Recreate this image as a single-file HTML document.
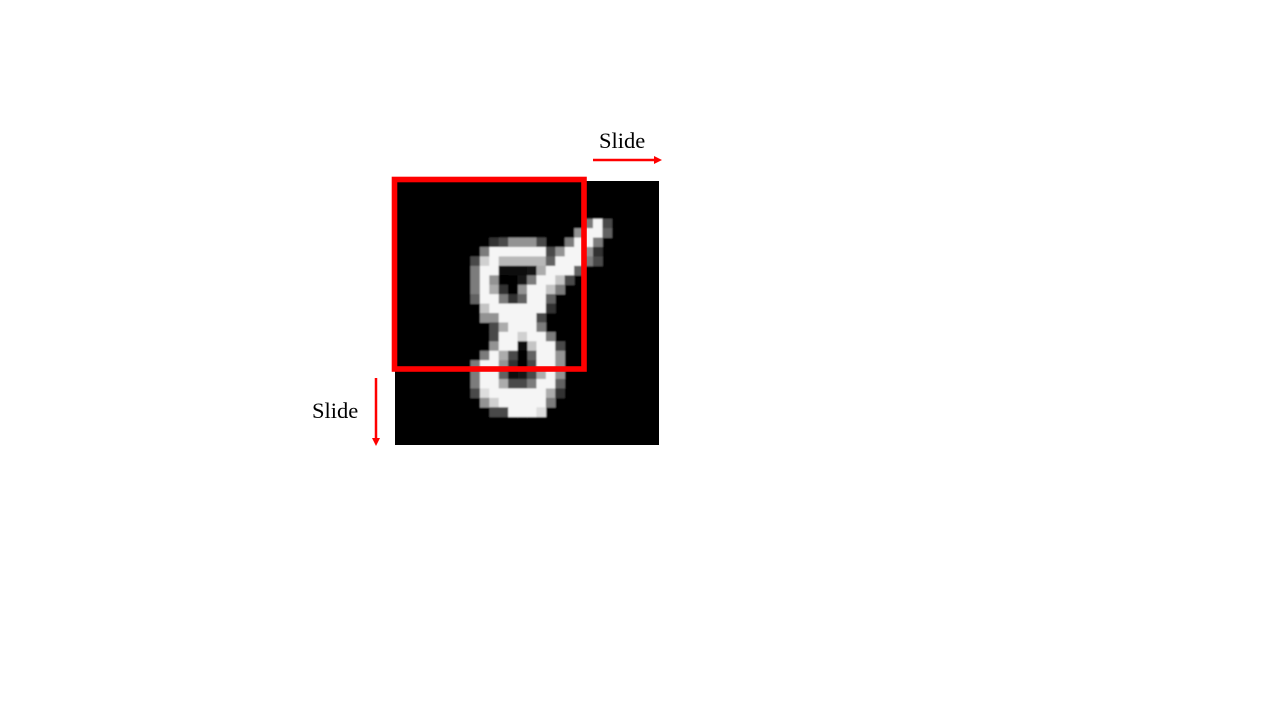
<!DOCTYPE html>
<html><head><meta charset="utf-8"><style>
html,body{margin:0;padding:0;background:#fff;width:1280px;height:720px;overflow:hidden}
svg{position:absolute;left:0;top:0}
text{font-family:"Liberation Serif",serif;font-size:22.5px;fill:#000}
</style></head><body>
<svg id="s" width="1280" height="720">
  <defs>
    <filter id="bl" x="0" y="0" width="1" height="1"><feGaussianBlur stdDeviation="0.9"/></filter>
    <clipPath id="cp"><rect x="395" y="181" width="264" height="264"/></clipPath>
  </defs>
  <rect x="395" y="181" width="264" height="264" fill="#000"/>
  <g clip-path="url(#cp)"><g id="img" filter="url(#bl)"></g></g>
  <rect x="394.5" y="179.5" width="189.5" height="189.5" fill="none" stroke="#ff0000" stroke-width="5.6"/>
  <text x="599" y="148">Slide</text>
  <g>
    <line x1="593" y1="160" x2="655" y2="160" stroke="#ff0000" stroke-width="2.5"/>
    <polygon points="654,156 662,160 654,164" fill="#ff0000"/>
  </g>
  <text x="312" y="418">Slide</text>
  <g>
    <line x1="376" y1="378" x2="376" y2="439" stroke="#ff0000" stroke-width="2.5"/>
    <polygon points="372,438 376,446 380,438" fill="#ff0000"/>
  </g>
</svg>
<script>
// pixel intensities [row, col, value]
const rows = [4,4,4,5,5,5,5,6,6,6,6,6,6,6,6,6,6,7,7,7,7,7,7,7,7,7,7,7,7,7,8,8,8,8,8,8,8,8,8,8,8,8,8,8,9,9,9,9,9,9,9,9,9,9,9,9,10,10,10,10,10,10,10,10,10,10,11,11,11,11,11,11,11,11,11,11,12,12,12,12,12,12,12,12,12,13,13,13,13,13,13,13,13,14,14,14,14,14,14,14,15,15,15,15,15,15,16,16,16,16,16,16,16,17,17,17,17,17,17,17,17,18,18,18,18,18,18,18,18,18,19,19,19,19,19,19,19,19,19,19,20,20,20,20,20,20,20,20,20,20,21,21,21,21,21,21,21,21,21,21,22,22,22,22,22,22,22,22,22,22,23,23,23,23,23,23,23,23,24,24,24,24,24,24];
const cols = [20,21,22,19,20,21,22,10,11,12,13,14,15,18,19,20,21,9,10,11,12,13,14,15,16,17,18,19,20,21,8,9,10,11,12,13,14,15,16,17,18,19,20,21,8,9,10,11,12,13,14,15,16,17,18,19,8,9,10,13,14,15,16,17,18,11,8,9,10,11,13,14,15,16,17,12,8,9,10,11,12,13,14,15,16,9,10,11,12,13,14,15,16,9,10,11,12,13,14,15,10,11,12,13,14,15,10,11,12,13,14,15,16,10,11,12,14,15,16,17,13,9,10,11,12,14,15,16,17,13,8,9,10,11,12,14,15,16,17,13,8,9,10,11,13,14,15,16,17,12,8,9,10,11,12,13,14,15,16,17,8,9,10,11,12,13,14,15,16,17,9,10,11,12,13,14,15,16,10,11,12,13,14,15];
const vals = [0.5,1,0.3,0.6,1,1,0.4,0.2,0.3,0.6,0.6,0.6,0.3,0.5,1,1,0.5,0.5,1,1,1,1,1,1,0.3,0.6,1,1,0.6,0.2,0.3,0.85,1,0.75,0.75,0.75,0.75,0.75,0.4,1,1,1,0.5,0.3,0.5,1,1,0.05,0.05,0.05,0.1,0.7,1,1,1,0.4,0.5,1,0.6,0.1,0.5,1,1,0.8,0.3,0,0.5,1,0.7,0.2,0.6,1,1,0.8,0.5,0,0.4,1,1,0.5,0.2,0.4,1,1,0.4,0.8,1,1,1,1,1,1,0.2,0.6,0.6,1,1,1,1,0.3,0.3,0.7,1,1,1,0.5,0.3,1,1,0.85,1,1,0.5,0.6,1,1,0.8,1,1,0.3,0.05,0.5,1,0.7,0.3,0.4,1,1,0.6,0,0.5,1,1,0.6,0.2,0.3,1,1,0.6,0,0.5,1,1,0.4,0.1,0.3,0.7,1,0.6,0.05,0.5,1,1,0.7,0.3,0.3,0.5,1,1,0.4,0.3,0.9,1,1,1,1,1,1,0.7,0.2,0.6,0.85,1,1,1,1,1,0.5,0.3,0.3,1,1,1,0.9];
const NS='http://www.w3.org/2000/svg';
const g=document.getElementById('img');
const X0=395,Y0=181,P=264/28;
const bg=document.createElementNS(NS,'rect');
bg.setAttribute('x',X0);bg.setAttribute('y',Y0);bg.setAttribute('width',264);bg.setAttribute('height',264);bg.setAttribute('fill','#000');


g.appendChild(bg);
for(let i=0;i<vals.length;i++){
  const v=Math.round(vals[i]*245);
  const r=document.createElementNS(NS,'rect');
  r.setAttribute('x',X0+cols[i]*P);r.setAttribute('y',Y0+rows[i]*P);
  r.setAttribute('width',P+0.4);r.setAttribute('height',P+0.4);
  r.setAttribute('fill',`rgb(${v},${v},${v})`);
  
  
  g.appendChild(r);
}
</script>
</body></html>
